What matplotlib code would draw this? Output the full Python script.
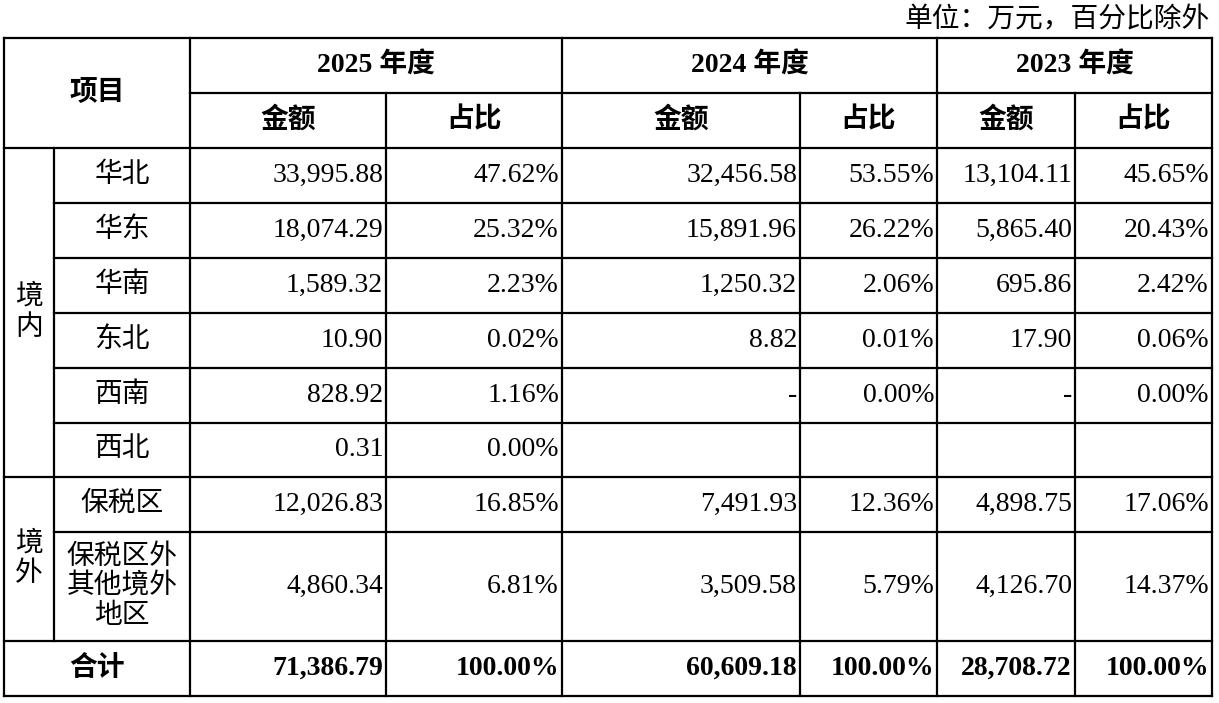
import matplotlib
matplotlib.use('Agg')
import matplotlib.pyplot as plt

FONT = ['Liberation Serif', 'Noto Sans CJK SC']

years = ['2025 年度', '2024 年度', '2023 年度']
regions = ['华北', '华东', '华南', '东北', '西南', '西北', '保税区', '保税区外\n其他境外\n地区']
amt_2025 = ['33,995.88', '18,074.29', '1,589.32', '10.90', '828.92', '0.31', '12,026.83', '4,860.34']
pct_2025 = ['47.62%', '25.32%', '2.23%', '0.02%', '1.16%', '0.00%', '16.85%', '6.81%']
amt_2024 = ['32,456.58', '15,891.96', '1,250.32', '8.82', '-', '', '7,491.93', '3,509.58']
pct_2024 = ['53.55%', '26.22%', '2.06%', '0.01%', '0.00%', '', '12.36%', '5.79%']
amt_2023 = ['13,104.11', '5,865.40', '695.86', '17.90', '-', '', '4,898.75', '4,126.70']
pct_2023 = ['45.65%', '20.43%', '2.42%', '0.06%', '0.00%', '', '17.06%', '14.37%']
totals = ['71,386.79', '100.00%', '60,609.18', '100.00%', '28,708.72', '100.00%']

# layout in pixels
xs = [4, 54, 190, 386, 562, 800, 937, 1075, 1212]
ys = [38, 93, 148, 203, 258, 313, 368, 423, 477, 532, 641, 696]

fig = plt.figure(figsize=(12.19, 7.03), dpi=100)
ax = fig.add_axes([0, 0, 1, 1])
ax.set_xlim(0, 1219)
ax.set_ylim(703, 0)
ax.axis('off')

lw = 1.6
def hline(y, x0, x1):
    ax.plot([x0, x1], [y, y], color='black', lw=lw, solid_capstyle='projecting')
def vline(x, y0, y1):
    ax.plot([x, x], [y0, y1], color='black', lw=lw, solid_capstyle='projecting')

# horizontal lines
hline(ys[0], xs[0], xs[-1])
hline(ys[1], xs[2], xs[-1])
hline(ys[2], xs[0], xs[-1])
for y in ys[3:8] + ys[9:10]:
    hline(y, xs[1], xs[-1])
hline(ys[8], xs[0], xs[-1])
hline(ys[10], xs[0], xs[-1])
hline(ys[11], xs[0], xs[-1])

# vertical lines
for x in [xs[0], xs[2], xs[4], xs[6], xs[-1]]:
    vline(x, ys[0], ys[-1])
for x in [xs[3], xs[5], xs[7]]:
    vline(x, ys[1], ys[-1])
vline(xs[1], ys[2], ys[10])

fs = 20
def txt(x, y, s, ha='center', bold=False, ls=1.2):
    ax.text(x, y, s, ha=ha, va='center', fontsize=fs, family=FONT,
            fontweight='bold' if bold else 'normal', linespacing=ls)

txt(1210, 20, '单位：万元，百分比除外', ha='right')
txt((xs[0] + xs[2]) / 2, (ys[0] + ys[2]) / 2, '项目', bold=True)
for i, yr in enumerate(years):
    txt((xs[2 + 2 * i] + xs[4 + 2 * i]) / 2, (ys[0] + ys[1]) / 2, yr, bold=True)
    txt((xs[2 + 2 * i] + xs[3 + 2 * i]) / 2, (ys[1] + ys[2]) / 2, '金额', bold=True)
    txt((xs[3 + 2 * i] + xs[4 + 2 * i]) / 2, (ys[1] + ys[2]) / 2, '占比', bold=True)

txt((xs[0] + xs[1]) / 2, (ys[2] + ys[8]) / 2, '境\n内', ls=1.25)
txt((xs[0] + xs[1]) / 2, (ys[8] + ys[10]) / 2, '境\n外', ls=1.25)

cols = [amt_2025, pct_2025, amt_2024, pct_2024, amt_2023, pct_2023]
for r, name in enumerate(regions):
    yc = (ys[2 + r] + ys[3 + r]) / 2
    txt((xs[1] + xs[2]) / 2, yc, name, ls=1.2)
    for c, col in enumerate(cols):
        if col[r]:
            txt(xs[3 + c] - 3, yc, col[r], ha='right')

yc = (ys[10] + ys[11]) / 2
txt((xs[0] + xs[2]) / 2, yc, '合计', bold=True)
for c, v in enumerate(totals):
    txt(xs[3 + c] - 3, yc, v, ha='right', bold=True)

fig.savefig('out.png', dpi=100, facecolor='white')
